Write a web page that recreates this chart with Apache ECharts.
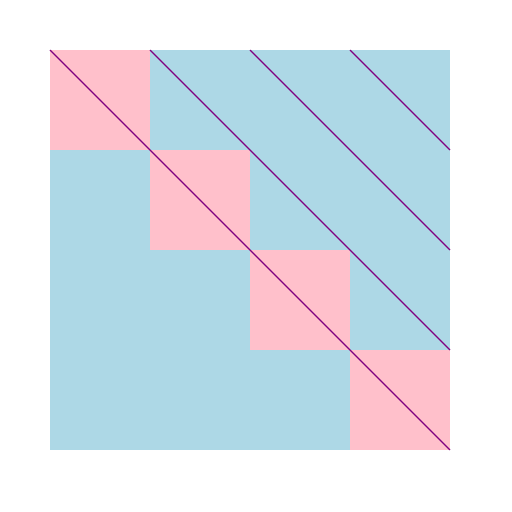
<!DOCTYPE html>
<html>
<head>
<meta charset="utf-8">
<script src="https://cdn.jsdelivr.net/npm/echarts@6/dist/echarts.min.js"></script>
<style>html,body{margin:0;padding:0;background:#fff}#main{width:512px;height:512px}</style>
</head>
<body>
<div id="main"></div>
<script>
var size = 4;
// 1 = diagonal cell (pink), 0 = off-diagonal (light blue)
var cellRows = [
    [1, 0, 0, 0],
    [0, 1, 0, 0],
    [0, 0, 1, 0],
    [0, 0, 0, 1]
];
// diagonal lines start at column offset k on the top edge
var lineOffsets = [0, 1, 2, 3];
var cellColors = ['#add8e6', '#ffc0cb'];

var cells = [];
cellRows.forEach(function (row, r) {
    row.forEach(function (v, c) { cells.push([c, r, v]); });
});

var lineSeries = lineOffsets.map(function (k) {
    return {
        type: 'line',
        data: [[k, 0], [size, size - k]],
        symbol: 'none',
        lineStyle: { color: '#800080', width: 1.5 },
        z: 3
    };
});

var myChart = echarts.init(document.getElementById('main'));
var option = {
    animation: false,
    grid: { left: 50, top: 50, width: 400, height: 400 },
    xAxis: { type: 'value', min: 0, max: size, show: false },
    yAxis: { type: 'value', min: 0, max: size, inverse: true, show: false },
    series: [{
        type: 'custom',
        data: cells,
        renderItem: function (params, api) {
            var p0 = api.coord([api.value(0), api.value(1)]);
            var p1 = api.coord([api.value(0) + 1, api.value(1) + 1]);
            return {
                type: 'rect',
                shape: { x: p0[0], y: p0[1], width: p1[0] - p0[0], height: p1[1] - p0[1] },
                style: { fill: cellColors[api.value(2)] }
            };
        },
        z: 1
    }].concat(lineSeries)
};
myChart.setOption(option);
</script>
</body>
</html>
